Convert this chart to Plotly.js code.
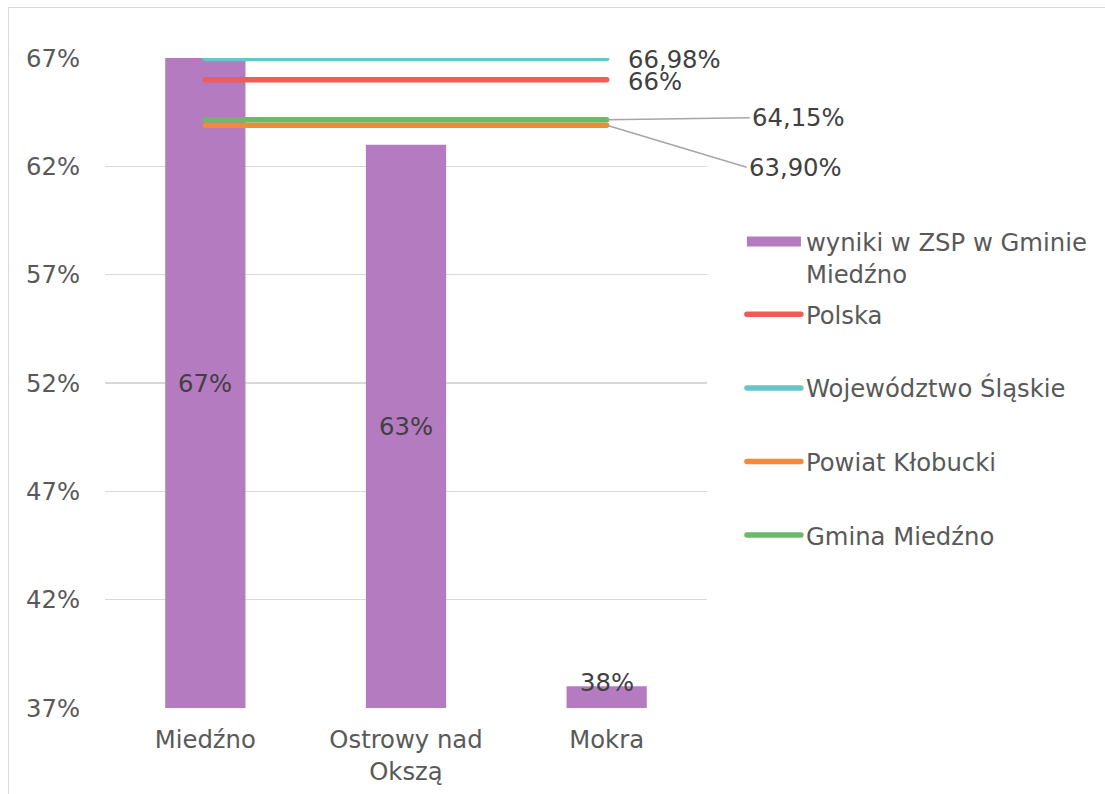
<!DOCTYPE html>
<html>
<head>
<meta charset="utf-8">
<script src="https://cdn.plot.ly/plotly-3.0.1.min.js"></script>
<style>
  html, body { margin: 0; padding: 0; background: #fff; overflow: hidden; }
  #frame { position: absolute; left: 8px; top: 7px; width: 1200px; height: 900px;
           border-left: 1.5px solid #d9d9d9; border-top: 1.5px solid #d9d9d9; pointer-events: none; }
  #chart { position: absolute; left: 0; top: 0; width: 1105px; height: 794px; }
  path.js-line { stroke-linecap: round; }
  g.legend2 .legendlines path { stroke-linecap: round; }
  g.legend .legendlines path.js-line { stroke-linecap: butt; }
</style>
</head>
<body>
<div id="chart"></div>
<div id="frame"></div>
<script>
// ---- data ----
const categories = ['Miedźno', 'Ostrowy nad Okszą', 'Mokra'];
const tickLabels = ['Miedźno', 'Ostrowy nad<br>Okszą', 'Mokra'];
const barName = 'wyniki w ZSP w Gminie<br>Miedźno';
const barValues = [67, 63, 38];
const lineNames = ['Polska', 'Województwo Śląskie', 'Powiat Kłobucki', 'Gmina Miedźno'];
const lineValues = [66, 66.98, 63.90, 64.15];
const lineColors = ['#F25B57', '#67C6C8', '#F5893B', '#6DB86B'];
const yTickVals = [37, 42, 47, 52, 57, 62, 67];

const FONT = 'DejaVu Sans, Verdana, sans-serif';
const FS = 24.3;
const yMin = 37, yMax = 67;
const BAR_COLOR = '#B57BC1';

function fmt(v) {
  return (Number.isInteger(v) ? String(v) : v.toFixed(2).replace('.', ',')) + '%';
}

const traces = [];
traces.push({
  type: 'bar', x: categories, y: barValues, name: barName,
  marker: { color: BAR_COLOR }, showlegend: false, hoverinfo: 'skip'
});
// legend entry for the bars (wide box swatch)
traces.push({
  type: 'scatter', mode: 'lines', x: [null], y: [null], name: barName,
  line: { color: BAR_COLOR, width: 13 }, legend: 'legend', hoverinfo: 'skip'
});
lineNames.forEach((n, i) => {
  traces.push({
    type: 'scatter', mode: 'lines', x: categories,
    y: categories.map(() => lineValues[i]), name: n,
    line: { color: lineColors[i], width: 5.5 }, legend: 'legend2', legendgroup: 'g' + (i + 1),
    cliponaxis: false, hoverinfo: 'skip'
  });
});

const annotations = [];
// bar labels
barValues.forEach((v, i) => {
  const small = (v - yMin) < 2;
  annotations.push({
    x: categories[i], y: small ? v : (yMin + v) / 2, xref: 'x', yref: 'y',
    text: fmt(v), showarrow: false, yshift: small ? 4 : 0,
    font: { family: FONT, size: FS, color: '#404040' }
  });
});
// line labels
const last = categories[categories.length - 1];
annotations.push({ x: last, y: lineValues[1], xref: 'x', yref: 'y', text: fmt(lineValues[1]),
  showarrow: false, xanchor: 'left', xshift: 19, yshift: -1,
  font: { family: FONT, size: FS, color: '#404040' } });
annotations.push({ x: last, y: lineValues[0], xref: 'x', yref: 'y', text: fmt(lineValues[0]),
  showarrow: false, xanchor: 'left', xshift: 19, yshift: -2,
  font: { family: FONT, size: FS, color: '#404040' } });
annotations.push({ x: last, y: lineValues[3], xref: 'x', yref: 'y', text: fmt(lineValues[3]),
  showarrow: true, arrowhead: 0, arrowwidth: 1.5, arrowcolor: '#A6A6A6',
  ax: 143, ay: -2, xanchor: 'left', standoff: 1,
  font: { family: FONT, size: FS, color: '#404040' } });
annotations.push({ x: last, y: lineValues[2], xref: 'x', yref: 'y', text: fmt(lineValues[2]),
  showarrow: true, arrowhead: 0, arrowwidth: 1.5, arrowcolor: '#A6A6A6',
  ax: 140, ay: 42, xanchor: 'left', standoff: 1,
  font: { family: FONT, size: FS, color: '#404040' } });

const legendFont = { family: FONT, size: FS, color: '#595959' };
const layout = {
  width: 1105, height: 794,
  margin: { l: 105, r: 398, t: 58, b: 86 },
  paper_bgcolor: 'rgba(0,0,0,0)', plot_bgcolor: 'rgba(0,0,0,0)',
  font: { family: FONT, size: FS, color: '#595959' },
  bargap: 0.6,
  showlegend: true,
  legend: {
    x: 1.058, xanchor: 'left', y: 0.752, yanchor: 'top', valign: 'top',
    itemwidth: 54, font: legendFont, bgcolor: 'rgba(0,0,0,0)'
  },
  legend2: {
    x: 1.058, xanchor: 'left', y: 0.64, yanchor: 'top', valign: 'top',
    traceorder: 'grouped', tracegroupgap: 39,
    itemwidth: 54, font: legendFont, bgcolor: 'rgba(0,0,0,0)'
  },
  xaxis: {
    type: 'category', range: [-0.5, categories.length - 0.5],
    tickvals: categories, ticktext: tickLabels,
    showgrid: false, zeroline: false, showline: false, ticks: '',
    ticklabelstandoff: 15, fixedrange: true
  },
  yaxis: {
    range: [yMin, yMax], tickvals: yTickVals, ticktext: yTickVals.map(v => v + '%'),
    showgrid: true, gridcolor: '#D9D9D9', gridwidth: 1.5, zeroline: false, showline: false,
    ticks: '', ticklabelstandoff: 24, fixedrange: true
  },
  annotations: annotations
};

Plotly.newPlot('chart', traces, layout, { staticPlot: true, displayModeBar: false });
</script>
</body>
</html>
